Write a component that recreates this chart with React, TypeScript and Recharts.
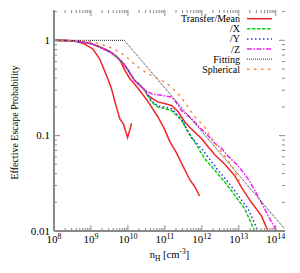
import { LineChart, Line, XAxis, YAxis, Legend } from "recharts";

// plot box (px inside the 300x273 chart)
const PLOT = { left: 54, right: 285, top: 10, bottom: 231 };
const FRAME = "#8a8a8a";
const FONT = "'Liberation Serif', 'Times New Roman', serif";

const X_DOMAIN = [1e8, 1.78e14];
const Y_DOMAIN = [0.01, 2.08];
const X_DECADES = [1e8, 1e9, 1e10, 1e11, 1e12, 1e13, 1e14];
const Y_DECADES = [0.01, 0.1, 1];

// Transfer/Mean (three runs drawn in the same style)
const meanLow = [
  { x: 1e8, y: 1 }, { x: 3.2e8, y: 0.99 }, { x: 6e8, y: 0.933 }, { x: 1.12e9, y: 0.813 },
  { x: 1.74e9, y: 0.631 }, { x: 2.63e9, y: 0.427 }, { x: 3.55e9, y: 0.316 }, { x: 4.57e9, y: 0.219 },
  { x: 6e9, y: 0.151 }, { x: 7.6e9, y: 0.132 }, { x: 9.8e9, y: 0.0955 }, { x: 1.26e10, y: 0.135 },
];
const meanMid = [
  { x: 1e8, y: 1 }, { x: 3.16e8, y: 0.989 }, { x: 6.03e8, y: 0.962 }, { x: 1e9, y: 0.923 },
  { x: 1.74e9, y: 0.851 }, { x: 3.24e9, y: 0.759 }, { x: 4.9e9, y: 0.676 }, { x: 6.31e9, y: 0.603 },
  { x: 8.13e9, y: 0.49 }, { x: 1.12e10, y: 0.398 }, { x: 1.86e10, y: 0.316 }, { x: 3.47e10, y: 0.229 },
  { x: 6.46e10, y: 0.158 }, { x: 9.77e10, y: 0.117 }, { x: 1.35e11, y: 0.0871 }, { x: 2e11, y: 0.0676 },
  { x: 3.09e11, y: 0.0479 }, { x: 4.68e11, y: 0.0347 }, { x: 6.31e11, y: 0.0295 }, { x: 8.71e11, y: 0.0234 },
];
const meanHigh = [
  { x: 1e8, y: 1 }, { x: 3.16e8, y: 0.989 }, { x: 6.03e8, y: 0.962 }, { x: 1e9, y: 0.923 },
  { x: 1.74e9, y: 0.851 }, { x: 3.24e9, y: 0.759 }, { x: 4.9e9, y: 0.676 }, { x: 7.41e9, y: 0.575 },
  { x: 1e10, y: 0.49 }, { x: 1.51e10, y: 0.38 }, { x: 2.09e10, y: 0.339 }, { x: 2.82e10, y: 0.302 },
  { x: 3.47e10, y: 0.263 }, { x: 6.46e10, y: 0.226 }, { x: 9.77e10, y: 0.217 }, { x: 1.51e11, y: 0.207 },
  { x: 2.29e11, y: 0.178 }, { x: 3.47e11, y: 0.139 }, { x: 5.25e11, y: 0.117 }, { x: 9.77e11, y: 0.0933 },
  { x: 1.58e12, y: 0.0741 }, { x: 2.24e12, y: 0.0631 }, { x: 4.17e12, y: 0.0501 }, { x: 7.76e12, y: 0.038 },
  { x: 1.17e13, y: 0.0288 }, { x: 2.19e13, y: 0.02 }, { x: 4.07e13, y: 0.0145 }, { x: 6.17e13, y: 0.01 },
];
const alongX = [
  { x: 1e8, y: 1 }, { x: 3.16e8, y: 0.989 }, { x: 6.03e8, y: 0.962 }, { x: 1e9, y: 0.923 },
  { x: 1.74e9, y: 0.851 }, { x: 3.24e9, y: 0.759 }, { x: 4.9e9, y: 0.676 }, { x: 7.41e9, y: 0.575 },
  { x: 1e10, y: 0.49 }, { x: 1.51e10, y: 0.38 }, { x: 2.09e10, y: 0.339 }, { x: 2.82e10, y: 0.302 },
  { x: 3.16e10, y: 0.282 }, { x: 4.37e10, y: 0.225 }, { x: 6.46e10, y: 0.2 }, { x: 9.77e10, y: 0.192 },
  { x: 1.51e11, y: 0.184 }, { x: 2.82e11, y: 0.145 }, { x: 4.27e11, y: 0.109 }, { x: 6.46e11, y: 0.0857 },
  { x: 8.71e11, y: 0.0702 }, { x: 1.2e12, y: 0.0575 }, { x: 2.24e12, y: 0.0433 }, { x: 4.17e12, y: 0.0326 },
  { x: 7.76e12, y: 0.0237 }, { x: 1.45e13, y: 0.0171 }, { x: 2.69e13, y: 0.01 },
];
const alongY = [
  { x: 1e8, y: 1 }, { x: 3.16e8, y: 0.989 }, { x: 6.03e8, y: 0.962 }, { x: 1e9, y: 0.923 },
  { x: 1.74e9, y: 0.851 }, { x: 3.24e9, y: 0.759 }, { x: 4.9e9, y: 0.676 }, { x: 7.41e9, y: 0.575 },
  { x: 1e10, y: 0.49 }, { x: 1.51e10, y: 0.38 }, { x: 2.09e10, y: 0.339 }, { x: 2.82e10, y: 0.302 },
  { x: 3.16e10, y: 0.288 }, { x: 4.37e10, y: 0.232 }, { x: 6.46e10, y: 0.204 }, { x: 9.77e10, y: 0.2 },
  { x: 1.51e11, y: 0.192 }, { x: 2.82e11, y: 0.148 }, { x: 5.25e11, y: 0.0955 }, { x: 1.07e12, y: 0.0702 },
  { x: 2.75e12, y: 0.0433 }, { x: 5.13e12, y: 0.0326 }, { x: 9.55e12, y: 0.0237 }, { x: 1.78e13, y: 0.0171 },
  { x: 3.31e13, y: 0.01 },
];
const alongZ = [
  { x: 1e8, y: 1 }, { x: 3.16e8, y: 0.989 }, { x: 6.03e8, y: 0.962 }, { x: 1e9, y: 0.923 },
  { x: 1.74e9, y: 0.851 }, { x: 3.24e9, y: 0.759 }, { x: 4.9e9, y: 0.676 }, { x: 7.41e9, y: 0.575 },
  { x: 1e10, y: 0.49 }, { x: 1.51e10, y: 0.38 }, { x: 2.09e10, y: 0.339 }, { x: 2.82e10, y: 0.302 },
  { x: 3.16e10, y: 0.295 }, { x: 4.37e10, y: 0.275 }, { x: 8.13e10, y: 0.265 }, { x: 1.51e11, y: 0.254 },
  { x: 1.86e11, y: 0.234 }, { x: 2.82e11, y: 0.184 }, { x: 5.25e11, y: 0.151 }, { x: 9.77e11, y: 0.117 },
  { x: 1.48e12, y: 0.1 }, { x: 2.24e12, y: 0.0832 }, { x: 3.39e12, y: 0.0741 }, { x: 4.68e12, y: 0.0631 },
  { x: 8.71e12, y: 0.0501 }, { x: 1.62e13, y: 0.0372 }, { x: 2.19e13, y: 0.0309 }, { x: 4.07e13, y: 0.02 },
  { x: 6.17e13, y: 0.0145 }, { x: 1.05e14, y: 0.01 },
];
const fitting = [
  { x: 1e8, y: 1 }, { x: 8e9, y: 1 }, { x: 1.74e14, y: 0.0105 },
];
const spherical = [
  { x: 1e8, y: 1 }, { x: 7.94e8, y: 0.989 }, { x: 1.55e9, y: 0.923 }, { x: 2.88e9, y: 0.865 },
  { x: 4.9e9, y: 0.785 }, { x: 9.12e9, y: 0.676 }, { x: 1.12e10, y: 0.617 }, { x: 1.86e10, y: 0.525 },
  { x: 3.47e10, y: 0.447 }, { x: 6.46e10, y: 0.398 }, { x: 8.91e10, y: 0.372 }, { x: 1.51e11, y: 0.324 },
  { x: 2.29e11, y: 0.275 }, { x: 4.27e11, y: 0.2 }, { x: 6.46e11, y: 0.158 }, { x: 1.2e12, y: 0.123 },
  { x: 1.48e12, y: 0.107 }, { x: 2.51e12, y: 0.0794 }, { x: 7.76e12, y: 0.0437 }, { x: 9.55e12, y: 0.0355 },
  { x: 1.17e13, y: 0.0302 },
];

const LEGEND = [
  { name: "Transfer/Mean", color: "#f02828", dash: undefined, width: 1.5 },
  { name: "/X", color: "#10d010", dash: "3.5 1.5", width: 1.5 },
  { name: "/Y", color: "#2030ff", dash: "1.5 2.5", width: 1.5 },
  { name: "/Z", color: "#f020f0", dash: "5 1.5 1.5 1.5", width: 1.5 },
  { name: "Fitting", color: "#222222", dash: "1 1", width: 1 },
  { name: "Spherical", color: "#f58a40", dash: "2.5 4.5", width: 1.5 },
];

const X_TICKS = X_DECADES.flatMap((d) => [2, 3, 4, 5, 6, 7, 8, 9].map((m) => m * d).concat(d))
  .filter((v) => v <= X_DOMAIN[1]);
const Y_TICKS = Y_DECADES.flatMap((d) => [1, 2, 3, 4, 5, 6, 7, 8, 9].map((m) => m * d))
  .filter((v) => v <= Y_DOMAIN[1]);

const isDecade = (v: number) => Math.abs(Math.log10(v) - Math.round(Math.log10(v))) < 1e-6;

function XTick(props: any) {
  const { x, payload } = props;
  const major = isDecade(payload.value);
  const len = major ? 6 : 3;
  return (
    <g>
      <line x1={x} x2={x} y1={PLOT.bottom} y2={PLOT.bottom - len} stroke={FRAME} />
      <line x1={x} x2={x} y1={PLOT.top} y2={PLOT.top + len} stroke={FRAME} />
      {major && (
        <text x={x} y={PLOT.bottom + 12} textAnchor="middle" fontFamily={FONT} fontSize={11} fill="#000">
          10<tspan dy={-4.5} fontSize={8}>{Math.round(Math.log10(payload.value))}</tspan>
        </text>
      )}
    </g>
  );
}

function YTick(props: any) {
  const { y, payload } = props;
  const major = isDecade(payload.value);
  const len = major ? 6 : 3;
  return (
    <g>
      <line x1={PLOT.left} x2={PLOT.left + len} y1={y} y2={y} stroke={FRAME} />
      <line x1={PLOT.right} x2={PLOT.right - len} y1={y} y2={y} stroke={FRAME} />
      {major && (
        <text x={PLOT.left - 4} y={y + 3.5} textAnchor="end" fontFamily={FONT} fontSize={11} fill="#000">
          {payload.value}
        </text>
      )}
    </g>
  );
}

function XTitle() {
  return (
    <text x={(PLOT.left + PLOT.right) / 2} y={258} textAnchor="middle" fontFamily={FONT} fontSize={10.5} fill="#000">
      n<tspan dy={2.5} fontSize={7.5}>H</tspan>
      <tspan dy={-2.5}> [cm</tspan>
      <tspan dy={-4} fontSize={7.5}>-3</tspan>
      <tspan dy={4}>]</tspan>
    </text>
  );
}

function YTitle() {
  const cy = (PLOT.top + PLOT.bottom) / 2 + 2;
  return (
    <text x={18} y={cy} transform={`rotate(-90 18 ${cy})`} textAnchor="middle" fontFamily={FONT} fontSize={10} fill="#000">
      Effective Escape Probability
    </text>
  );
}

function LegendBox() {
  return (
    <svg width={300} height={273} style={{ position: "absolute", left: 0, top: 0 }}>
      {LEGEND.map((s, i) => {
        const cy = 18.7 + i * 10.1;
        return (
          <g key={s.name}>
            <text x={240} y={cy + 3.5} textAnchor="end" fontFamily={FONT} fontSize={10} fill="#000">
              {s.name}
            </text>
            <line x1={247} x2={272} y1={cy} y2={cy} stroke={s.color} strokeWidth={s.width} strokeDasharray={s.dash} />
          </g>
        );
      })}
    </svg>
  );
}

export default function App() {
  const series = [meanLow, meanMid, meanHigh, alongX, alongY, alongZ, fitting, spherical];
  const styleOf = [0, 0, 0, 1, 2, 3, 4, 5];
  return (
    <div style={{ position: "absolute", left: 0, top: 0 }}>
      <LineChart width={300} height={273} margin={{ top: 10, right: 15, bottom: 0, left: 0 }}>
        <XAxis
          dataKey="x" type="number" scale="log" domain={X_DOMAIN} allowDataOverflow
          ticks={X_TICKS} interval={0} tick={<XTick />} tickLine={false} height={42}
          axisLine={{ stroke: FRAME, strokeWidth: 2 }}
          label={<XTitle />}
        />
        <XAxis
          xAxisId="top" orientation="top" type="number" scale="log" domain={X_DOMAIN} allowDataOverflow
          height={0} tick={false} tickLine={false} axisLine={{ stroke: FRAME, strokeWidth: 2 }}
        />
        <YAxis
          type="number" scale="log" domain={Y_DOMAIN} allowDataOverflow
          ticks={Y_TICKS} interval={0} tick={<YTick />} tickLine={false} width={54}
          axisLine={{ stroke: FRAME, strokeWidth: 2 }}
          label={<YTitle />}
        />
        <YAxis
          yAxisId="right" orientation="right" type="number" scale="log" domain={Y_DOMAIN} allowDataOverflow
          width={0} tick={false} tickLine={false} axisLine={{ stroke: FRAME, strokeWidth: 2 }}
        />
        {series.map((d, i) => {
          const s = LEGEND[styleOf[i]];
          return (
            <Line
              key={i} data={d} dataKey="y" type="linear" dot={false} isAnimationActive={false}
              stroke={s.color} strokeWidth={s.width} strokeDasharray={s.dash}
              legendType="none"
            />
          );
        })}
        <Legend
          layout="vertical" align="center" verticalAlign="middle"
          wrapperStyle={{ position: "absolute", left: 0, top: 0, width: 300, height: 273, pointerEvents: "none" }}
          content={() => <LegendBox />}
        />
      </LineChart>
    </div>
  );
}
